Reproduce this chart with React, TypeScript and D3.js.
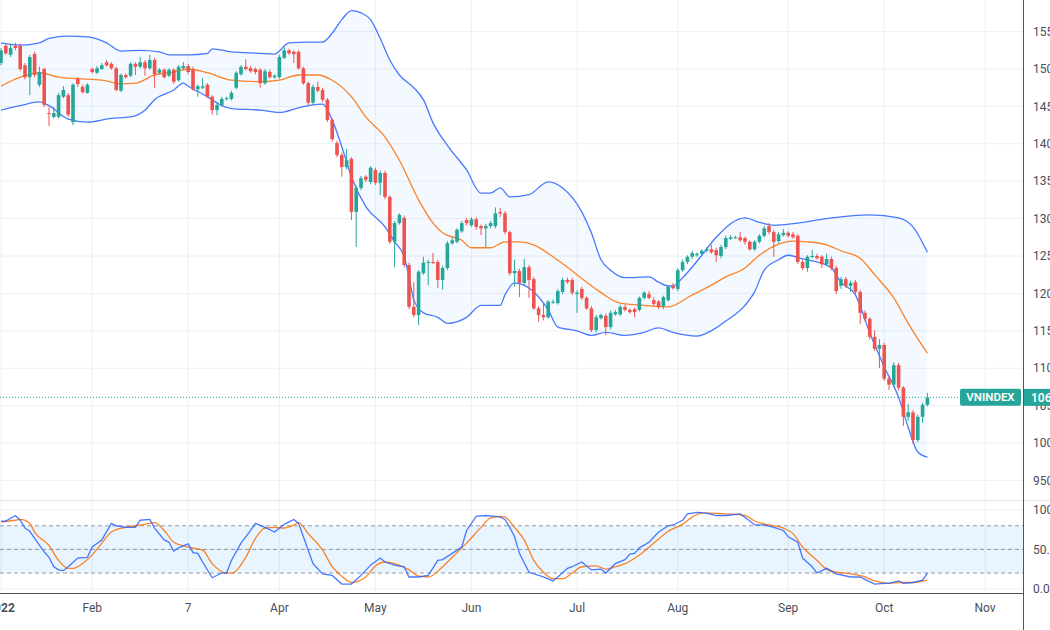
import React from "react";
import * as d3 from "d3";

// ---- Daily candles, VNINDEX 2022 (bar 0 = first session of January) ----
const opens = [
  1508, 1531, 1519, 1531, 1531, 1505, 1489, 1520, 1479, 1500, 1441, 1436, 1436, 1463, 1465, 1429, 1487, 1476, 1468, 1500,
  1495, 1500, 1509, 1507, 1501, 1471, 1492, 1491, 1507, 1503, 1509, 1501, 1512, 1495, 1499, 1491, 1499, 1485, 1501, 1504,
  1500, 1473, 1475, 1479, 1463, 1445, 1452, 1460, 1460, 1475, 1493, 1503, 1501, 1500, 1499, 1481, 1496, 1489, 1489, 1515,
  1525, 1523, 1523, 1501, 1481, 1455, 1476, 1472, 1459, 1432, 1401, 1385, 1369, 1380, 1309, 1341, 1356, 1349, 1365, 1348,
  1361, 1329, 1269, 1294, 1301, 1238, 1182, 1171, 1227, 1241, 1242, 1242, 1218, 1234, 1267, 1269, 1283, 1298, 1291, 1299,
  1290, 1287, 1290, 1290, 1309, 1307, 1282, 1227, 1230, 1214, 1235, 1219, 1180, 1171, 1168, 1188, 1187, 1202, 1218, 1218,
  1199, 1206, 1194, 1180, 1151, 1167, 1170, 1155, 1172, 1172, 1182, 1178, 1179, 1178, 1194, 1199, 1191, 1189, 1183, 1191,
  1210, 1206, 1231, 1242, 1249, 1251, 1253, 1257, 1259, 1258, 1250, 1262, 1273, 1274, 1275, 1274, 1269, 1259, 1269, 1277,
  1290, 1282, 1270, 1278, 1281, 1279, 1277, 1242, 1234, 1249, 1250, 1249, 1239, 1246, 1234, 1210, 1219, 1210, 1215, 1202,
  1174, 1166, 1142, 1126, 1131, 1086, 1078, 1104, 1074, 1035, 1041, 1004, 1035, 1051,
];
const highs = [
  1528, 1534, 1534, 1535, 1534, 1508, 1519, 1523, 1503, 1502, 1449, 1449, 1468, 1477, 1468, 1481, 1489, 1479, 1481, 1502,
  1504, 1508, 1512, 1509, 1503, 1494, 1494, 1509, 1509, 1516, 1512, 1519, 1515, 1501, 1501, 1501, 1501, 1505, 1509, 1507,
  1503, 1479, 1488, 1481, 1465, 1455, 1463, 1463, 1471, 1497, 1505, 1513, 1504, 1502, 1501, 1500, 1499, 1493, 1519, 1529,
  1527, 1525, 1525, 1503, 1483, 1479, 1483, 1475, 1461, 1434, 1404, 1388, 1393, 1382, 1344, 1357, 1358, 1370, 1368, 1364,
  1364, 1331, 1297, 1307, 1304, 1241, 1215, 1231, 1249, 1245, 1254, 1245, 1237, 1270, 1275, 1287, 1297, 1301, 1302, 1302,
  1292, 1293, 1297, 1315, 1314, 1310, 1284, 1245, 1233, 1246, 1238, 1222, 1183, 1187, 1191, 1192, 1206, 1221, 1221, 1221,
  1204, 1209, 1196, 1183, 1171, 1173, 1173, 1177, 1178, 1185, 1185, 1180, 1181, 1196, 1203, 1203, 1195, 1191, 1197, 1211,
  1214, 1234, 1245, 1251, 1257, 1255, 1259, 1262, 1265, 1261, 1265, 1277, 1278, 1277, 1282, 1276, 1271, 1271, 1279, 1290,
  1294, 1285, 1282, 1286, 1283, 1282, 1279, 1245, 1251, 1258, 1253, 1251, 1253, 1249, 1237, 1222, 1222, 1217, 1218, 1204,
  1177, 1168, 1151, 1139, 1134, 1089, 1108, 1107, 1076, 1052, 1044, 1038, 1054, 1067,
];
const lows = [
  1505, 1519, 1516, 1525, 1497, 1486, 1465, 1489, 1476, 1449, 1424, 1434, 1434, 1461, 1436, 1425, 1476, 1467, 1467, 1494,
  1493, 1499, 1503, 1499, 1470, 1469, 1487, 1489, 1492, 1501, 1491, 1499, 1475, 1493, 1487, 1489, 1480, 1483, 1499, 1493,
  1471, 1463, 1473, 1461, 1439, 1438, 1450, 1458, 1458, 1473, 1491, 1498, 1495, 1493, 1475, 1479, 1487, 1487, 1487, 1513,
  1519, 1508, 1499, 1479, 1452, 1452, 1469, 1456, 1429, 1403, 1382, 1356, 1366, 1298, 1262, 1338, 1349, 1346, 1345, 1331,
  1326, 1266, 1235, 1292, 1235, 1179, 1168, 1158, 1225, 1211, 1239, 1207, 1205, 1231, 1265, 1267, 1281, 1291, 1289, 1285,
  1278, 1262, 1287, 1287, 1302, 1279, 1224, 1209, 1195, 1211, 1194, 1178, 1162, 1164, 1166, 1186, 1185, 1199, 1213, 1198,
  1174, 1191, 1178, 1148, 1148, 1165, 1144, 1152, 1170, 1170, 1176, 1173, 1168, 1176, 1192, 1192, 1183, 1179, 1179, 1189,
  1205, 1203, 1229, 1239, 1246, 1249, 1251, 1255, 1253, 1242, 1247, 1259, 1271, 1273, 1269, 1265, 1257, 1257, 1267, 1275,
  1279, 1249, 1267, 1276, 1275, 1273, 1239, 1231, 1229, 1247, 1245, 1234, 1237, 1231, 1199, 1206, 1207, 1202, 1199, 1159,
  1163, 1138, 1123, 1100, 1083, 1071, 1075, 1070, 1023, 1030, 999, 1001, 1027, 1049,
];
const closes = [
  1525, 1521, 1528, 1528, 1500, 1489, 1516, 1492, 1496, 1452, 1440, 1441, 1465, 1472, 1439, 1479, 1480, 1469, 1479, 1496,
  1501, 1505, 1505, 1501, 1472, 1492, 1489, 1507, 1503, 1509, 1501, 1512, 1493, 1499, 1489, 1499, 1483, 1503, 1504, 1496,
  1473, 1477, 1477, 1463, 1445, 1452, 1460, 1461, 1468, 1495, 1503, 1500, 1497, 1496, 1481, 1497, 1489, 1491, 1516, 1525,
  1521, 1520, 1501, 1481, 1455, 1476, 1471, 1459, 1432, 1406, 1385, 1369, 1378, 1309, 1341, 1354, 1352, 1368, 1348, 1361,
  1329, 1269, 1294, 1305, 1238, 1182, 1171, 1229, 1241, 1242, 1241, 1218, 1234, 1267, 1271, 1285, 1294, 1294, 1299, 1289,
  1287, 1290, 1294, 1307, 1307, 1282, 1227, 1230, 1214, 1235, 1218, 1180, 1171, 1168, 1189, 1189, 1203, 1218, 1215, 1201,
  1201, 1194, 1180, 1151, 1168, 1171, 1155, 1174, 1175, 1182, 1178, 1175, 1175, 1194, 1201, 1194, 1186, 1182, 1195, 1209,
  1207, 1231, 1242, 1249, 1254, 1253, 1257, 1259, 1255, 1251, 1262, 1274, 1275, 1275, 1271, 1269, 1259, 1269, 1277, 1287,
  1282, 1269, 1279, 1281, 1277, 1275, 1242, 1234, 1249, 1250, 1247, 1239, 1246, 1234, 1203, 1219, 1210, 1214, 1202, 1174,
  1166, 1142, 1126, 1131, 1086, 1078, 1104, 1074, 1035, 1041, 1004, 1035, 1051, 1061,
];

// ---- Bollinger Bands (20, 2), read per bar index ----
const bbUpperBars = [0, 4, 8, 10, 14, 18, 22, 25, 29, 33, 35, 39, 43, 44, 48, 54, 57, 60, 64, 67, 69, 71, 73, 75, 77, 79, 81, 83, 86, 88, 90, 93, 97, 100, 102, 104, 106, 110, 114, 117, 121, 123, 125, 127, 130, 135, 137, 139, 140, 142, 146, 149, 155, 158, 161, 166, 173, 181, 187, 190, 193];
const bbUpper = [1535, 1532, 1535, 1541, 1544, 1543, 1535, 1524, 1525, 1523, 1519, 1519, 1521, 1527, 1523, 1521, 1520, 1535, 1536, 1536, 1548, 1566, 1578, 1575, 1566, 1541, 1512, 1492, 1475, 1459, 1428, 1398, 1365, 1334, 1334, 1341, 1329, 1332, 1349, 1341, 1309, 1281, 1245, 1231, 1221, 1222, 1215, 1210, 1210, 1221, 1251, 1275, 1301, 1295, 1291, 1294, 1301, 1305, 1301, 1289, 1255];
const bbBasisBars = [0, 4, 8, 12, 16, 21, 25, 28, 32, 36, 39, 43, 48, 54, 58, 62, 66, 69, 73, 76, 80, 83, 87, 90, 92, 96, 98, 102, 105, 108, 111, 115, 118, 122, 125, 129, 134, 139, 144, 148, 151, 155, 158, 162, 165, 168, 172, 175, 179, 182, 186, 189, 193];
const bbBasis = [1477, 1489, 1495, 1489, 1487, 1485, 1480, 1481, 1492, 1496, 1500, 1495, 1485, 1483, 1485, 1492, 1492, 1485, 1463, 1436, 1409, 1378, 1325, 1294, 1281, 1271, 1261, 1261, 1269, 1269, 1265, 1249, 1235, 1215, 1201, 1187, 1184, 1182, 1198, 1211, 1222, 1234, 1251, 1266, 1270, 1269, 1265, 1257, 1247, 1225, 1194, 1160, 1120];
const bbLowerBars = [0, 4, 8, 10, 14, 18, 23, 27, 30, 32, 36, 38, 39, 43, 46, 48, 54, 58, 62, 65, 67, 69, 71, 73, 76, 80, 82, 84, 85, 86, 88, 91, 93, 97, 100, 104, 105, 107, 108, 111, 114, 116, 120, 123, 126, 130, 134, 137, 140, 145, 148, 151, 155, 157, 159, 162, 164, 167, 170, 173, 175, 178, 181, 184, 187, 189, 191, 193];
const bbLower = [1445, 1451, 1456, 1451, 1433, 1429, 1434, 1436, 1445, 1459, 1472, 1481, 1477, 1463, 1451, 1447, 1445, 1442, 1448, 1452, 1453, 1432, 1396, 1356, 1316, 1289, 1269, 1249, 1222, 1191, 1174, 1168, 1160, 1168, 1184, 1184, 1198, 1214, 1213, 1202, 1178, 1155, 1150, 1144, 1148, 1144, 1148, 1154, 1148, 1143, 1150, 1163, 1184, 1202, 1231, 1245, 1251, 1246, 1242, 1234, 1215, 1198, 1147, 1102, 1061, 1021, 988, 981];

// ---- Stochastic (14, 3, 3) ----
const stochKBars = [0, 1, 3, 4, 5, 6, 7, 9, 10, 11, 12, 13, 14, 16, 18, 19, 21, 23, 24, 26, 28, 29, 31, 32, 34, 35, 36, 37, 39, 40, 41, 42, 44, 46, 47, 48, 50, 52, 53, 55, 57, 59, 60, 61, 62, 64, 65, 67, 69, 71, 73, 75, 77, 79, 80, 82, 84, 85, 87, 89, 91, 92, 94, 96, 97, 99, 101, 103, 104, 105, 106, 107, 108, 110, 113, 115, 116, 118, 119, 121, 123, 125, 126, 128, 130, 131, 132, 133, 135, 137, 139, 140, 142, 143, 145, 147, 149, 151, 154, 156, 157, 159, 161, 163, 164, 166, 167, 169, 170, 172, 174, 177, 179, 180, 182, 184, 185, 187, 188, 190, 192, 193];
const stochK = [86, 86, 93, 87, 77, 73, 64, 47, 40, 28, 24, 23, 28, 39, 40, 53, 62, 83, 80, 78, 78, 87, 88, 77, 62, 59, 48, 52, 57, 46, 45, 34, 14, 20, 20, 36, 58, 74, 83, 78, 72, 82, 85, 88, 83, 49, 32, 19, 17, 6, 6, 17, 30, 39, 34, 30, 28, 15, 15, 17, 36, 37, 45, 53, 74, 92, 93, 92, 91, 88, 78, 66, 45, 21, 15, 10, 15, 26, 28, 34, 24, 25, 20, 32, 37, 44, 45, 52, 59, 72, 80, 81, 87, 95, 97, 96, 93, 93, 95, 86, 81, 81, 78, 74, 66, 59, 39, 28, 20, 26, 19, 15, 15, 12, 6, 7, 7, 10, 7, 8, 11, 20];
const stochDBars = [0, 3, 4, 6, 7, 10, 12, 14, 15, 17, 19, 21, 23, 26, 28, 30, 32, 34, 36, 39, 42, 44, 47, 48, 51, 53, 55, 57, 59, 61, 62, 64, 67, 69, 71, 73, 76, 78, 80, 82, 85, 87, 89, 92, 94, 97, 100, 102, 104, 105, 107, 109, 111, 113, 115, 117, 119, 121, 124, 126, 128, 130, 133, 136, 139, 142, 144, 146, 148, 151, 155, 157, 160, 163, 165, 167, 170, 172, 174, 177, 180, 182, 185, 187, 190, 193];
const stochD = [85, 87, 88, 83, 72, 55, 36, 26, 26, 32, 43, 58, 72, 78, 80, 82, 84, 74, 59, 53, 49, 32, 20, 20, 40, 64, 77, 78, 77, 81, 84, 70, 49, 28, 16, 8, 15, 29, 34, 32, 24, 16, 15, 28, 40, 58, 78, 90, 92, 91, 78, 62, 36, 21, 13, 13, 20, 28, 29, 25, 28, 32, 43, 58, 73, 82, 91, 96, 96, 95, 93, 86, 81, 77, 70, 53, 36, 25, 21, 19, 15, 10, 7, 8, 8, 11];

// ---- Axes ----
const timeTickBars = [0, 19, 39, 58, 78, 98, 120, 141, 164, 184, 205];
const timeTickLabels = ["2022", "Feb", "7", "Apr", "May", "Jun", "Jul", "Aug", "Sep", "Oct", "Nov"];
const priceTicks = [950, 1000, 1050, 1100, 1150, 1200, 1250, 1300, 1350, 1400, 1450, 1500, 1550];
const stochTicks = [0, 50, 100];
const stochBandLevels = [80, 50, 20];
const symbolName = "VNINDEX";

const W = 1050;
const H = 630;
const PLOT_RIGHT = 1023;
const PRICE_BOTTOM = 500;
const STOCH_TOP = 501;
const STOCH_BOTTOM = 593;

const UP = "#26a69a";
const DOWN = "#ef5350";
const BLUE = "#2962ff";
const ORANGE = "#ff6d00";
const GRID = "#edf0f5";
const TEXT = "#4a4e59";
const FONT = "Roboto, 'Liberation Sans', sans-serif";

export default function App() {
  const x = d3.scaleLinear().domain([0, 205]).range([1, 985]);
  const yP = d3.scaleLinear().domain([1000, 1500]).range([443, 69]);
  const yS = d3.scaleLinear().domain([0, 100]).range([588.8, 510]);

  const toPts = (bars: number[], vals: number[]) => bars.map((b, k) => [b, vals[k]] as [number, number]);

  const bandLine = d3
    .line<[number, number]>()
    .x((d) => x(d[0]))
    .y((d) => yP(d[1]))
    .curve(d3.curveMonotoneX);

  const upperPts = toPts(bbUpperBars, bbUpper);
  const basisPts = toPts(bbBasisBars, bbBasis);
  const lowerPts = toPts(bbLowerBars, bbLower);

  // band fill = (area below upper) ∩ (area above lower)
  const belowUpper = d3
    .area<[number, number]>()
    .x((d) => x(d[0]))
    .y0(() => PRICE_BOTTOM + 50)
    .y1((d) => yP(d[1]))
    .curve(d3.curveMonotoneX);
  const aboveLower = d3
    .area<[number, number]>()
    .x((d) => x(d[0]))
    .y0(() => -50)
    .y1((d) => yP(d[1]))
    .curve(d3.curveMonotoneX);

  const kLine = d3
    .line<[number, number]>()
    .x((d) => x(d[0]))
    .y((d) => yS(d[1]));
  const dLine = d3
    .line<[number, number]>()
    .x((d) => x(d[0]))
    .y((d) => yS(d[1]))
    .curve(d3.curveMonotoneX);

  const lastClose = closes[closes.length - 1];
  const lastY = yP(lastClose);
  const bodyW = 3.6;

  return (
    <div style={{ position: "absolute", left: 0, top: 0, width: W, height: H, overflow: "hidden", background: "#fff" }}>
      <svg width={W} height={H} style={{ display: "block", fontFamily: FONT }}>
        <defs>
          <clipPath id="pricePane">
            <rect x={0} y={0} width={PLOT_RIGHT} height={PRICE_BOTTOM} />
          </clipPath>
          <clipPath id="stochPane">
            <rect x={0} y={STOCH_TOP} width={PLOT_RIGHT} height={STOCH_BOTTOM - STOCH_TOP} />
          </clipPath>
          <clipPath id="underUpper">
            <path d={belowUpper(upperPts) || ""} />
          </clipPath>
        </defs>

        {/* grid */}
        {timeTickBars.map((b, k) => (
          <line key={"vg" + k} x1={x(b)} x2={x(b)} y1={0} y2={STOCH_BOTTOM} stroke={GRID} strokeWidth={1} />
        ))}
        {priceTicks.map((v) => (
          <line key={"hg" + v} x1={0} x2={PLOT_RIGHT} y1={yP(v)} y2={yP(v)} stroke={GRID} strokeWidth={1} />
        ))}
        {stochTicks.map((v) => (
          <line key={"sg" + v} x1={0} x2={PLOT_RIGHT} y1={yS(v)} y2={yS(v)} stroke={GRID} strokeWidth={1} />
        ))}

        {/* price pane */}
        <g clipPath="url(#pricePane)">
          <g clipPath="url(#underUpper)">
            <path d={aboveLower(lowerPts) || ""} fill="rgba(33,150,243,0.055)" />
          </g>
          <path d={bandLine(upperPts) || ""} fill="none" stroke={BLUE} strokeWidth={1.3} opacity={0.85} />
          <path d={bandLine(lowerPts) || ""} fill="none" stroke={BLUE} strokeWidth={1.3} opacity={0.85} />
          <path d={bandLine(basisPts) || ""} fill="none" stroke={ORANGE} strokeWidth={1.3} opacity={0.85} />

          {closes.map((c, i) => {
            const o = opens[i];
            const up = c >= o;
            const col = up ? UP : DOWN;
            const cx = x(i);
            const top = yP(Math.max(o, c));
            const bot = yP(Math.min(o, c));
            return (
              <g key={"c" + i}>
                <line x1={cx} x2={cx} y1={yP(highs[i])} y2={yP(lows[i])} stroke={col} strokeWidth={1} />
                <rect x={cx - bodyW / 2} y={top} width={bodyW} height={Math.max(1, bot - top)} fill={col} />
              </g>
            );
          })}

          <line x1={0} x2={PLOT_RIGHT} y1={lastY} y2={lastY} stroke={UP} strokeWidth={1} strokeDasharray="1,2" />
        </g>

        {/* pane separator */}
        <line x1={0} x2={W} y1={STOCH_TOP - 0.5} y2={STOCH_TOP - 0.5} stroke="#e0e3eb" strokeWidth={1} />

        {/* stochastic pane */}
        <g clipPath="url(#stochPane)">
          <rect x={0} y={yS(80)} width={PLOT_RIGHT} height={yS(20) - yS(80)} fill="rgba(33,150,243,0.1)" />
          {stochBandLevels.map((v) => (
            <line key={"sb" + v} x1={0} x2={PLOT_RIGHT} y1={yS(v)} y2={yS(v)} stroke="#787b86" strokeOpacity={0.75} strokeWidth={1} strokeDasharray="4,3" />
          ))}
          <path d={dLine(toPts(stochDBars, stochD)) || ""} fill="none" stroke={ORANGE} strokeWidth={1.3} opacity={0.85} />
          <path d={kLine(toPts(stochKBars, stochK)) || ""} fill="none" stroke={BLUE} strokeWidth={1.3} opacity={0.85} />
        </g>

        {/* axes frame */}
        <line x1={0} x2={PLOT_RIGHT} y1={STOCH_BOTTOM + 0.5} y2={STOCH_BOTTOM + 0.5} stroke="#50535e" strokeWidth={1} />
        <line x1={PLOT_RIGHT + 0.5} x2={PLOT_RIGHT + 0.5} y1={0} y2={H} stroke="#50535e" strokeWidth={1} />

        {/* price axis labels */}
        {priceTicks.map((v) => (
          <text key={"pl" + v} x={1033} y={yP(v)} dy="0.35em" fontSize={12} fill={TEXT}>
            {v.toFixed(2)}
          </text>
        ))}
        {stochTicks.map((v) => (
          <text key={"sl" + v} x={1033} y={yS(v)} dy="0.35em" fontSize={12} fill={TEXT}>
            {v.toFixed(2)}
          </text>
        ))}

        {/* time axis labels */}
        {timeTickBars.map((b, k) => (
          <text
            key={"tl" + k}
            x={x(b)}
            y={608}
            dy="0.35em"
            textAnchor="middle"
            fontSize={12}
            fontWeight={k === 0 ? 700 : 400}
            fill={TEXT}
          >
            {timeTickLabels[k]}
          </text>
        ))}

        {/* last price markers */}
        <rect x={960} y={lastY - 8.5} width={61} height={17} rx={2} fill={UP} />
        <text x={990.5} y={lastY} dy="0.35em" textAnchor="middle" fontSize={11.5} fontWeight={600} fill="#fff">
          {symbolName}
        </text>
        <rect x={PLOT_RIGHT + 1} y={lastY - 8.5} width={W - PLOT_RIGHT} height={17} fill={UP} />
        <text x={1031} y={lastY} dy="0.35em" fontSize={12} fontWeight={600} fill="#fff">
          {lastClose.toFixed(2)}
        </text>
      </svg>
    </div>
  );
}
